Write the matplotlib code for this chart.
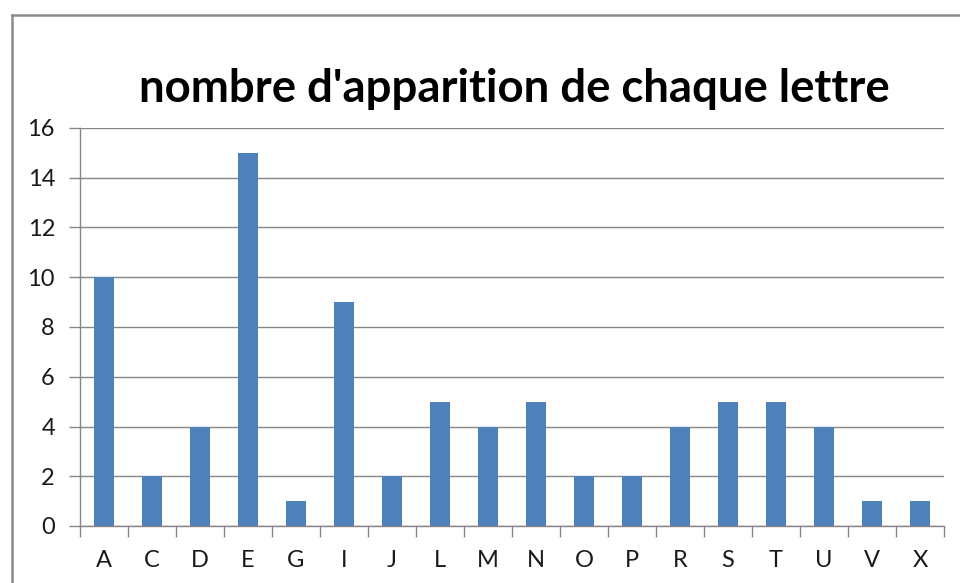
import matplotlib
matplotlib.use("Agg")
import matplotlib.pyplot as plt
from matplotlib.lines import Line2D
import numpy as np

letters = ["A", "C", "D", "E", "G", "I", "J", "L", "M", "N", "O", "P", "R", "S", "T", "U", "V", "X"]
counts = [10, 2, 4, 15, 1, 9, 2, 5, 4, 5, 2, 2, 4, 5, 5, 4, 1, 1]
yticks = [0, 2, 4, 6, 8, 10, 12, 14, 16]
title = "nombre d'apparition de chaque lettre"

plt.rcParams['font.family'] = ['Lato', 'DejaVu Sans']

W, H = 960, 583
fig = plt.figure(figsize=(W / 100, H / 100), dpi=100)
ax = fig.add_axes([80 / W, 1 - 526 / H, (944 - 80) / W, (526 - 128) / H])

x = np.arange(len(letters))
ax.bar(x, counts, width=0.4, color="#4F81BD", zorder=3)

ax.set_xlim(-0.5, len(letters) - 0.5)
ax.set_ylim(0, 16)
ax.set_yticks(yticks)
ax.yaxis.grid(True, color="#868686", linewidth=1, zorder=0)
ax.set_xticks(x)
ax.set_xticklabels(letters, fontsize=17, color="#1a1a1a")
ax.set_yticklabels([str(v) for v in yticks], fontsize=17, color="#1a1a1a")
ax.tick_params(axis="x", length=0, pad=17)
ax.set_xticks(np.arange(len(letters) + 1) - 0.5, minor=True)
ax.tick_params(axis="x", which="minor", length=8, color="#868686", width=1)
ax.tick_params(axis="y", length=8, color="#868686", width=1, pad=10)

for s in ["top", "right"]:
    ax.spines[s].set_visible(False)
for s in ["left", "bottom"]:
    ax.spines[s].set_color("#868686")
    ax.spines[s].set_linewidth(1)

fig.text(514 / W, 1 - 89 / H, title, ha="center", va="center",
         fontsize=32.8, fontweight="bold", color="#000000")

# outer chart border (cropped at right and bottom)
fig.add_artist(Line2D([11.5 / W, 11.5 / W], [0, 1 - 15 / H], transform=fig.transFigure,
                      color="#8c8c8c", linewidth=1.8))
fig.add_artist(Line2D([11.5 / W, 1], [1 - 15 / H, 1 - 15 / H], transform=fig.transFigure,
                      color="#8c8c8c", linewidth=1.8))

fig.savefig("out.png", dpi=100)
